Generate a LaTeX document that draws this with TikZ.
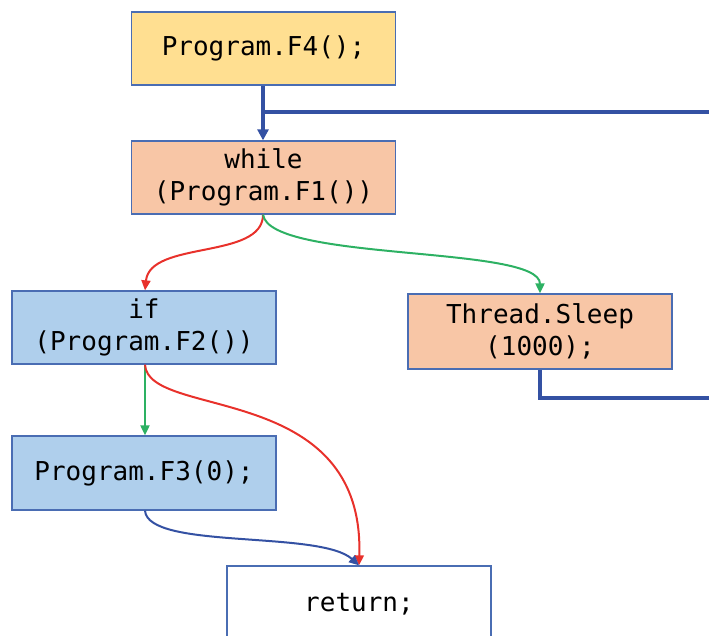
\documentclass[tikz,border=0pt]{standalone}
\usepackage{fontspec}
\setmonofont{DejaVu Sans Mono}
\usetikzlibrary{arrows.meta}
\definecolor{boxline}{HTML}{4A6DB3}
\definecolor{flowblue}{HTML}{3451A3}
\definecolor{flowred}{HTML}{E8312B}
\definecolor{flowgreen}{HTML}{2DB163}
\definecolor{fillyellow}{HTML}{FFDF91}
\definecolor{fillorange}{HTML}{F8C6A6}
\definecolor{fillblue}{HTML}{AFCFEC}
\tikzset{
  codebox/.style={draw=boxline, line width=1.3pt, minimum width=264pt,
    minimum height=73pt, inner sep=0pt, align=center,
    font=\ttfamily\fontsize{26}{32}\selectfont},
  thinflow/.style={line width=2pt, -{Triangle[length=10pt,width=9pt]}},
  thickflow/.style={draw=flowblue, line width=3.2pt},
}
\begin{document}
\begin{tikzpicture}[x=1pt,y=-1pt]
\useasboundingbox (0,0) rectangle (709,636);
\clip (0,0) rectangle (709,636);

% statement boxes
\node[codebox, fill=fillyellow] (f4) at (263.5,48.5) {Program.F4();};
\node[codebox, fill=fillorange] (wh) at (263.5,177.5) {while\\(Program.F1())};
\node[codebox, fill=fillblue] (if) at (144,327.5) {if\\(Program.F2())};
\node[codebox, fill=fillorange, minimum height=75pt] (sl) at (540,331.5) {Thread.Sleep\\(1000);};
\node[codebox, fill=fillblue, minimum height=74pt] (f3) at (144,473) {Program.F3(0);};
\node[codebox, fill=white, minimum height=76pt] (ret) at (359,604) {return;};

% loop-back connectors
\coordinate (j) at (263,112);
\coordinate (far) at (730,112);
\coordinate (low) at (730,398);
\draw[thickflow, -{Triangle[length=11pt,width=11pt]}] (f4.south -| j) -- (wh.north -| j);
\draw[thickflow] (sl.south) |- (low) -- (far) -- (j);

% branch connectors
\draw[thinflow, flowred] (wh.south -| j) .. controls (263,260) and (150,240) .. (if.north -| 145,0);
\draw[thinflow, flowgreen] (wh.south -| j) .. controls (270,262) and (540,245) .. (sl.north);
\draw[thinflow, flowgreen] (if.south -| 145,0) -- (f3.north -| 145,0);
\draw[thinflow, flowred] (if.south -| 145,0) .. controls (148,420) and (365,380) .. (ret.north);
\draw[thinflow, flowblue] (f3.south -| 145,0) .. controls (148,550) and (320,530) .. (ret.north);
\end{tikzpicture}
\end{document}
